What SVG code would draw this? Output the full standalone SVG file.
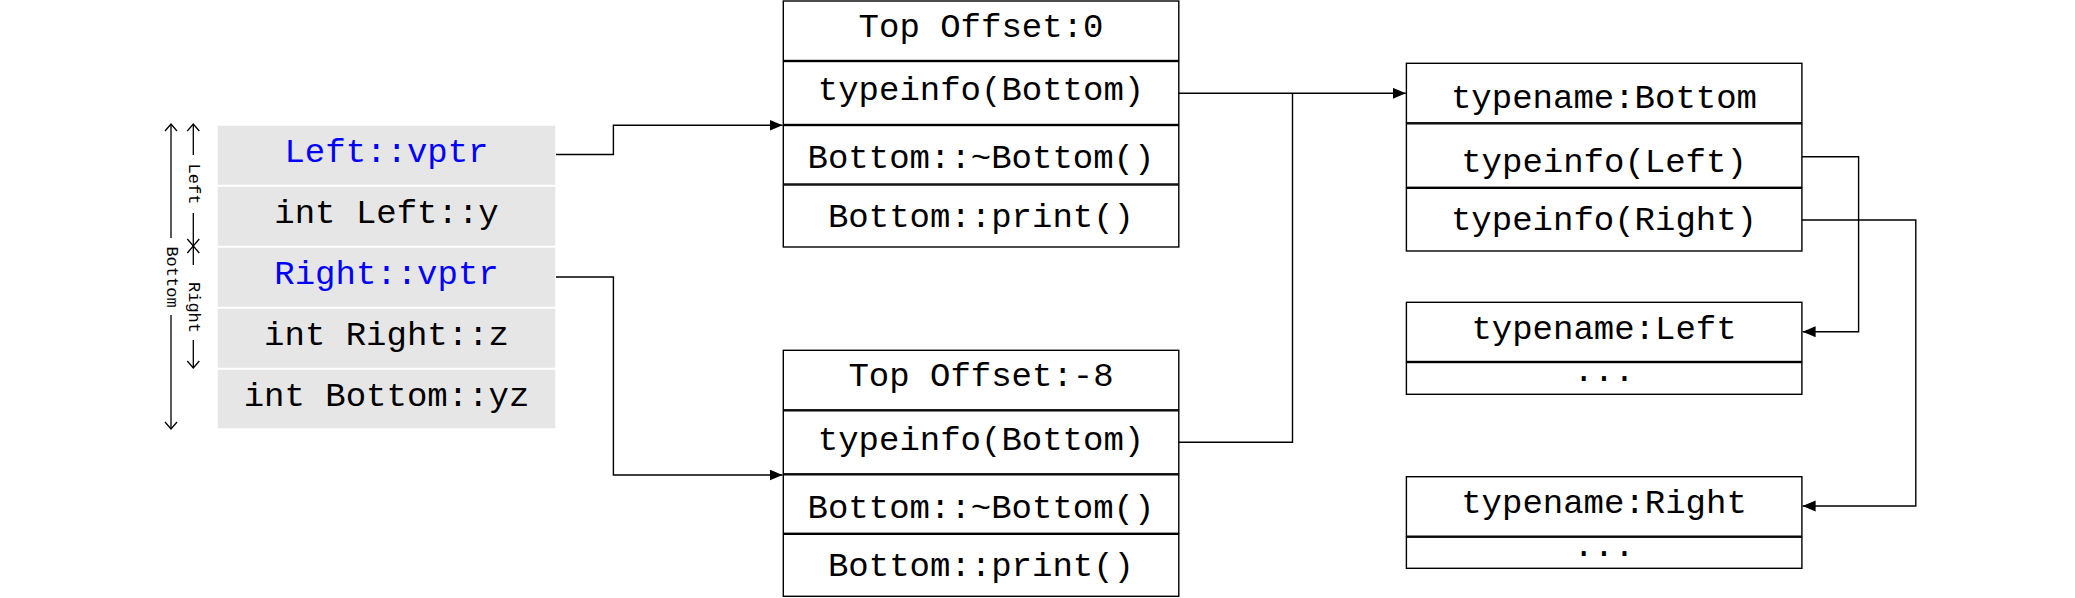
<svg xmlns="http://www.w3.org/2000/svg" width="2075" height="598" viewBox="0 0 2075 598">
<style>
  .cell { fill: #ffffff; stroke: #000000; stroke-width: 1.4; }
  .gray { fill: #e6e6e6; stroke: #ffffff; stroke-width: 1.5; }
  .t { font-family: "Liberation Mono", "DejaVu Sans Mono", monospace; font-size: 34px; text-anchor: middle; fill: #000000; }
  .blue { fill: #0000ff; }
  .dim { font-family: "Liberation Mono", "DejaVu Sans Mono", monospace; font-size: 17px; text-anchor: middle; dominant-baseline: central; fill: #000000; }
  .conn { fill: none; stroke: #000000; stroke-width: 1.4; }
  .dl { fill: none; stroke: #000000; stroke-width: 1.3; }
</style>
<defs>
  <marker id="arr" markerUnits="userSpaceOnUse" markerWidth="14" markerHeight="12" refX="13" refY="5.5" orient="auto">
    <path d="M0,0 L13,5.5 L0,11 z" fill="#000000"/>
  </marker>
</defs>

<!-- object layout -->
<g id="object-layout">
  <rect class="gray" x="217" y="125" width="339" height="60.5"/>
  <rect class="gray" x="217" y="186" width="339" height="60.5"/>
  <rect class="gray" x="217" y="247" width="339" height="60.5"/>
  <rect class="gray" x="217" y="308" width="339" height="60.5"/>
  <rect class="gray" x="217" y="369" width="339" height="60"/>
  <text class="t blue" x="386.5" y="162.3">Left::vptr</text>
  <text class="t" x="386.5" y="223.3">int Left::y</text>
  <text class="t blue" x="386.5" y="284">Right::vptr</text>
  <text class="t" x="386.5" y="345">int Right::z</text>
  <text class="t" x="386.5" y="406">int Bottom::yz</text>
</g>

<!-- size annotations -->
<g id="size-annotations">
  <path class="dl" d="M171,124 V238 M171,315 V429"/>
  <path class="dl" d="M165,131 L171,124 L177,131 M165,422 L171,429 L177,422"/>
  <text class="dim" x="171" y="277" transform="rotate(90 171 277)">Bottom</text>
  <path class="dl" d="M193.3,124 V155 M193.3,213 V246"/>
  <path class="dl" d="M187.3,131 L193.3,124 L199.3,131 M187.3,239 L193.3,246 L199.3,239"/>
  <text class="dim" x="193.3" y="184" transform="rotate(90 193.3 184)">Left</text>
  <path class="dl" d="M193.3,246 V265 M193.3,340 V368"/>
  <path class="dl" d="M187.3,253 L193.3,246 L199.3,253 M187.3,361 L193.3,368 L199.3,361"/>
  <text class="dim" x="193.3" y="307.5" transform="rotate(90 193.3 307.5)">Right</text>
</g>

<!-- vtable for Left-in-Bottom -->
<g id="vtable-left">
  <rect class="cell" x="783.3" y="1" width="395.5" height="59.5"/>
  <rect class="cell" x="783.3" y="61.5" width="395.5" height="63"/>
  <rect class="cell" x="783.3" y="125.5" width="395.5" height="58.5"/>
  <rect class="cell" x="783.3" y="185" width="395.5" height="62"/>
  <text class="t" x="981" y="36.7">Top Offset:0</text>
  <text class="t" x="981" y="100">typeinfo(Bottom)</text>
  <text class="t" x="981" y="168.3">Bottom::~Bottom()</text>
  <text class="t" x="981" y="226.7">Bottom::print()</text>
</g>

<!-- vtable for Right-in-Bottom -->
<g id="vtable-right">
  <rect class="cell" x="783.3" y="350.3" width="395.5" height="59.5"/>
  <rect class="cell" x="783.3" y="410.8" width="395.5" height="63"/>
  <rect class="cell" x="783.3" y="474.8" width="395.5" height="58.5"/>
  <rect class="cell" x="783.3" y="534.3" width="395.5" height="62"/>
  <text class="t" x="981" y="386.3">Top Offset:-8</text>
  <text class="t" x="981" y="449.5">typeinfo(Bottom)</text>
  <text class="t" x="981" y="518">Bottom::~Bottom()</text>
  <text class="t" x="981" y="575.5">Bottom::print()</text>
</g>

<!-- typeinfo Bottom -->
<g id="typeinfo-bottom">
  <rect class="cell" x="1406.4" y="63.3" width="395.5" height="59.5"/>
  <rect class="cell" x="1406.4" y="123.8" width="395.5" height="63.5"/>
  <rect class="cell" x="1406.4" y="188.3" width="395.5" height="62.7"/>
  <text class="t" x="1604" y="108.3">typename:Bottom</text>
  <text class="t" x="1604" y="171.7">typeinfo(Left)</text>
  <text class="t" x="1604" y="230">typeinfo(Right)</text>
</g>

<!-- typeinfo Left -->
<g id="typeinfo-left">
  <rect class="cell" x="1406.4" y="302.3" width="395.5" height="59.2"/>
  <rect class="cell" x="1406.4" y="362.5" width="395.5" height="31.8"/>
  <text class="t" x="1604" y="381">...</text>
  <text class="t" x="1604" y="339.3">typename:Left</text>
</g>

<!-- typeinfo Right -->
<g id="typeinfo-right">
  <rect class="cell" x="1406.4" y="476.7" width="395.5" height="59.5"/>
  <rect class="cell" x="1406.4" y="537.2" width="395.5" height="31.1"/>
  <text class="t" x="1604" y="512.7">typename:Right</text>
  <text class="t" x="1604" y="555.5">...</text>
</g>

<!-- connectors -->
<g id="connectors">
  <path class="conn" d="M556,154.5 H613.4 V125.3 H782.5" marker-end="url(#arr)"/>
  <path class="conn" d="M556,277 H613.4 V475 H782.5" marker-end="url(#arr)"/>
  <path class="conn" d="M1178.8,93.3 H1405.8" marker-end="url(#arr)"/>
  <path class="conn" d="M1178.8,442.3 H1292.5 V93.3"/>
  <path class="conn" d="M1801.9,156.7 H1858.6 V331.7 H1802.6" marker-end="url(#arr)"/>
  <path class="conn" d="M1801.9,220 H1915.8 V506 H1802.6" marker-end="url(#arr)"/>
</g>
</svg>
